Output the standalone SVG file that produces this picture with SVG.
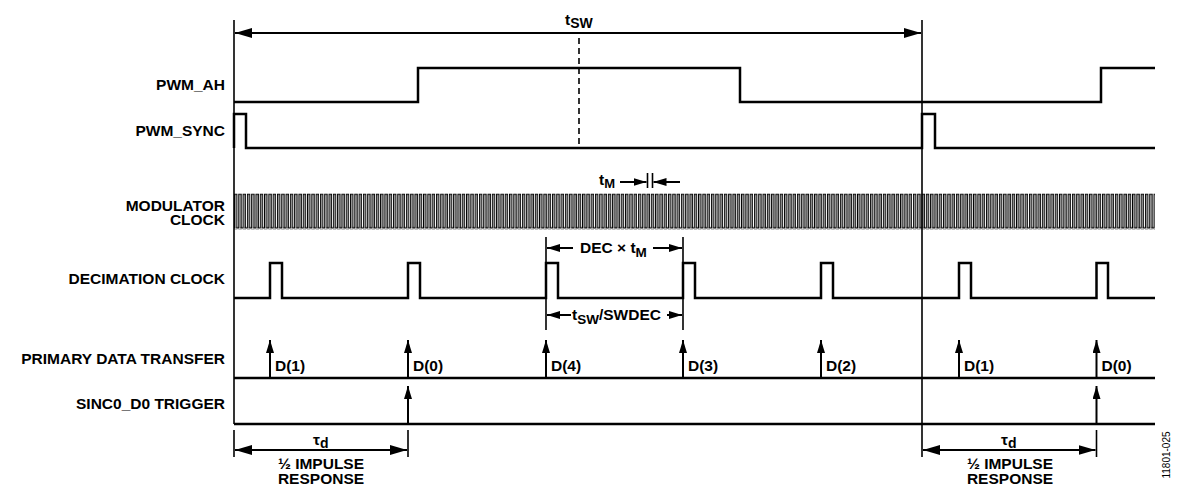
<svg xmlns="http://www.w3.org/2000/svg" width="1185" height="495" viewBox="0 0 1185 495">
<style>
.lbl{font-family:"Liberation Sans",Arial,sans-serif;font-weight:bold;font-size:15.5px;fill:#000}
.sig{fill:none;stroke:#000;stroke-width:2.5}
.ref{fill:none;stroke:#000;stroke-width:1.6}
.arr{fill:none;stroke:#000;stroke-width:2}
.num{font-family:"Liberation Sans",Arial,sans-serif;font-size:10px;fill:#000}
</style>
<defs>
<marker id="big" viewBox="0 0 17 10" refX="17" refY="5" markerWidth="17" markerHeight="10" markerUnits="userSpaceOnUse" orient="auto-start-reverse">
<path d="M0,0 L17,5 L0,10 z" fill="#000"/>
</marker>
<marker id="sm" viewBox="0 0 13 8" refX="13" refY="4" markerWidth="13" markerHeight="8" markerUnits="userSpaceOnUse" orient="auto-start-reverse">
<path d="M0,0 L13,4 L0,8 z" fill="#000"/>
</marker>
<pattern id="clk" patternUnits="userSpaceOnUse" x="234" y="193.5" width="4.297" height="36">
<rect x="0" y="0" width="1.2" height="35" fill="#000"/>
<rect x="0" y="0" width="3.3" height="1.2" fill="#000"/>
<rect x="2.15" y="0" width="1.2" height="35" fill="#000"/>
<rect x="2.15" y="33.8" width="2.147" height="1.2" fill="#000"/>
</pattern>
</defs>
<rect width="1185" height="495" fill="#fff"/>

<g id="labels">
<text class="lbl" x="225" y="90" text-anchor="end">PWM_AH</text>
<text class="lbl" x="225" y="136" text-anchor="end">PWM_SYNC</text>
<text class="lbl" x="225" y="210.5" text-anchor="end">MODULATOR</text>
<text class="lbl" x="225" y="225" text-anchor="end">CLOCK</text>
<text class="lbl" x="225" y="284" text-anchor="end">DECIMATION CLOCK</text>
<text class="lbl" x="225" y="364" text-anchor="end">PRIMARY DATA TRANSFER</text>
<text class="lbl" x="225" y="409" text-anchor="end">SINC0_D0 TRIGGER</text>
</g>

<g id="reference-lines">
<line class="ref" x1="234" y1="20" x2="234" y2="424" stroke-width="2"/>
<line class="ref" x1="922" y1="20" x2="922" y2="457"/>
<line class="ref" x1="579" y1="38" x2="579" y2="148" stroke-dasharray="6,4" stroke-width="2"/>
<line class="ref" x1="234" y1="430" x2="234" y2="457"/>
<line class="ref" x1="408" y1="430" x2="408" y2="457"/>
<line class="ref" x1="1096.5" y1="430" x2="1096.5" y2="457"/>
<line class="ref" x1="546" y1="237" x2="546" y2="330"/>
<line class="ref" x1="683" y1="237" x2="683" y2="330"/>
<line class="ref" x1="647.5" y1="173" x2="647.5" y2="188" stroke-width="1.2"/>
<line class="ref" x1="652.5" y1="173" x2="652.5" y2="188" stroke-width="1.2"/>
</g>

<g id="pwm_ah">
<path class="sig" d="M234,102 H418 V68 H740 V102 H1101 V68 H1155"/>
</g>

<g id="pwm_sync">
<path class="sig" d="M234,148 V114 H246 V148 H922 V114 H935 V148 H1155"/>
</g>

<g id="modulator_clock">
<rect x="234" y="193.5" width="921" height="36" fill="url(#clk)"/>
</g>

<g id="decimation_clock">
<path class="sig" d="M234,298 H270 V263 H282 V298 H408 V263 H420 V298 H546 V263 H558 V298 H683 V263 H695 V298 H821 V263 H833 V298 H959 V263 H971 V298 H1096.5 V263 H1108 V298 H1155"/>
</g>

<g id="primary_data_transfer">
<line class="sig" x1="234" y1="378" x2="1155" y2="378"/>
<text class="lbl" x="275" y="371">D(1)</text>
<text class="lbl" x="413" y="371">D(0)</text>
<text class="lbl" x="551" y="371">D(4)</text>
<text class="lbl" x="688" y="371">D(3)</text>
<text class="lbl" x="826" y="371">D(2)</text>
<text class="lbl" x="964" y="371">D(1)</text>
<text class="lbl" x="1101.5" y="371">D(0)</text>
</g>

<g id="sinc0_d0_trigger">
<line class="sig" x1="234" y1="424" x2="1155" y2="424"/>
</g>

<g id="annotations">
<text class="lbl" x="565" y="25" font-size="19">t<tspan dy="3" font-size="14">SW</tspan></text>
<text class="lbl" x="599" y="185" font-size="17">t<tspan dy="3" font-size="13">M</tspan></text>
<text class="lbl" x="580" y="253">DEC × t<tspan dy="4" font-size="13.5">M</tspan></text>
<text class="lbl" x="572" y="320" font-size="17">t<tspan dy="4" font-size="13.5">SW</tspan><tspan dy="-4" font-size="15.5">/SWDEC</tspan></text>
<text class="lbl" x="313" y="445" font-size="17" font-weight="normal">τ<tspan dy="3" font-size="14" font-weight="bold">d</tspan></text>
<text class="lbl" x="1001" y="445" font-size="17" font-weight="normal">τ<tspan dy="3" font-size="14" font-weight="bold">d</tspan></text>
<text class="lbl" x="321" y="469" text-anchor="middle">½ IMPULSE</text>
<text class="lbl" x="321" y="484" text-anchor="middle">RESPONSE</text>
<text class="lbl" x="1010" y="469" text-anchor="middle">½ IMPULSE</text>
<text class="lbl" x="1010" y="484" text-anchor="middle">RESPONSE</text>
<text class="num" transform="translate(1170,455) rotate(-90)" text-anchor="middle">11801-025</text>
</g>

<g id="connectors">
<line class="arr" x1="235" y1="33" x2="921" y2="33" marker-start="url(#big)" marker-end="url(#big)"/>
<line class="arr" x1="235" y1="450" x2="407" y2="450" marker-start="url(#big)" marker-end="url(#big)"/>
<line class="arr" x1="923" y1="450" x2="1095.5" y2="450" marker-start="url(#big)" marker-end="url(#big)"/>
<line class="arr" x1="620" y1="182" x2="646.5" y2="182" marker-end="url(#sm)"/>
<line class="arr" x1="680" y1="182" x2="653.5" y2="182" marker-end="url(#sm)"/>
<line class="arr" x1="573" y1="248" x2="547" y2="248" marker-end="url(#sm)"/>
<line class="arr" x1="653" y1="248" x2="682" y2="248" marker-end="url(#sm)"/>
<line class="arr" x1="571" y1="315" x2="547" y2="315" marker-end="url(#sm)"/>
<line class="arr" x1="667" y1="315" x2="682" y2="315" marker-end="url(#sm)"/>
<line class="arr" x1="270" y1="378" x2="270" y2="340" marker-end="url(#sm)"/>
<line class="arr" x1="408" y1="378" x2="408" y2="340" marker-end="url(#sm)"/>
<line class="arr" x1="546" y1="378" x2="546" y2="340" marker-end="url(#sm)"/>
<line class="arr" x1="683" y1="378" x2="683" y2="340" marker-end="url(#sm)"/>
<line class="arr" x1="821" y1="378" x2="821" y2="340" marker-end="url(#sm)"/>
<line class="arr" x1="959" y1="378" x2="959" y2="340" marker-end="url(#sm)"/>
<line class="arr" x1="1096.5" y1="378" x2="1096.5" y2="340" marker-end="url(#sm)"/>
<line class="arr" x1="408" y1="424" x2="408" y2="386" marker-end="url(#sm)"/>
<line class="arr" x1="1096.5" y1="424" x2="1096.5" y2="386" marker-end="url(#sm)"/>
</g>
</svg>
